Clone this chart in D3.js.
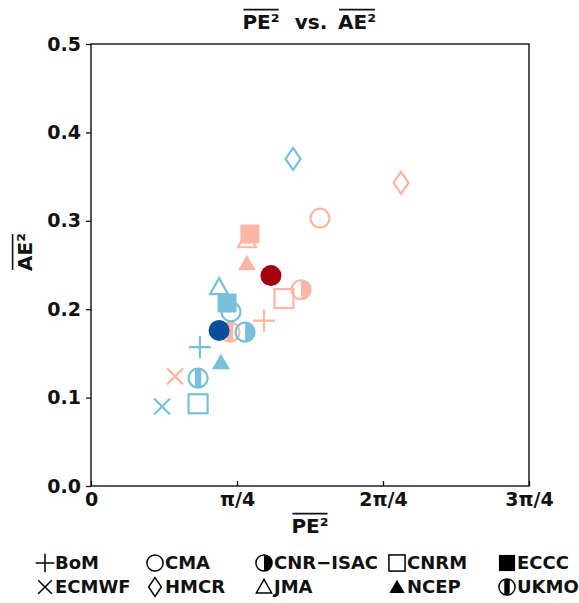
<!DOCTYPE html>
<html>
<head>
<meta charset="utf-8">
<script src="https://cdn.jsdelivr.net/npm/d3@7"></script>
<style>
  html, body { margin: 0; padding: 0; background: #fff; }
  svg text { font-family: "DejaVu Sans", sans-serif; font-weight: 700; fill: #111; }
</style>
</head>
<body>
<svg id="chart" width="579" height="603"></svg>
<script>
// Models and their marker shapes
const models = ["BoM", "CMA", "CNR\u2212ISAC", "CNRM", "ECCC", "ECMWF", "HMCR", "JMA", "NCEP", "UKMO"];
const shapes = ["plus", "circle", "halfRight", "square", "squareFilled", "cross", "diamond", "triangle", "triangleFilled", "band"];

// Series values: mean squared phase error (x) and amplitude error (y)
const bluePE = [0.586, 0.753, 0.829, 0.576, 0.732, 0.382, 1.087, 0.689, 0.699, 0.576];
const blueAE = [0.157, 0.197, 0.174, 0.093, 0.207, 0.090, 0.370, 0.225, 0.140, 0.122];
const redPE  = [0.931, 1.232, 1.130, 1.038, 0.855, 0.452, 1.668, 0.839, 0.839, 0.748];
const redAE  = [0.187, 0.303, 0.222, 0.212, 0.285, 0.124, 0.343, 0.278, 0.252, 0.174];

// Multi-model means
const meanPE = [0.689, 0.968];
const meanAE = [0.176, 0.238];

// Axis ticks
const xTicks = [0, Math.PI / 4, 2 * Math.PI / 4, 3 * Math.PI / 4];
const xTickLabels = ["0", "\u03c0/4", "2\u03c0/4", "3\u03c0/4"];
const yTicks = [0, 0.1, 0.2, 0.3, 0.4, 0.5];

const colBlue = "#78c0da", colRed = "#fbb7a3", colMeanBlue = "#074f9b", colMeanRed = "#a3000f";

const svg = d3.select("#chart");
const x = d3.scaleLinear().domain([0, 3 * Math.PI / 4]).range([91, 529]);
const y = d3.scaleLinear().domain([0, 0.5]).range([486, 44]);

// Axes
const gx = svg.append("g").attr("transform", "translate(0,486)")
  .call(d3.axisBottom(x).tickValues(xTicks).tickFormat((d, i) => xTickLabels[i])
    .tickSize(-5).tickPadding(7));
const gy = svg.append("g").attr("transform", "translate(91,0)")
  .call(d3.axisLeft(y).tickValues(yTicks).tickFormat(d3.format(".1f"))
    .tickSize(5).tickPadding(5));
[gx, gy].forEach(g => {
  g.select(".domain").remove();
  g.selectAll(".tick line").attr("stroke", "#111").attr("stroke-width", 1.3);
  g.selectAll(".tick text").style("font-size", "19px").style("font-family", "'DejaVu Sans', sans-serif").style("font-weight", 700).attr("fill", "#111");
});
svg.append("rect").attr("x", 91).attr("y", 44).attr("width", 438).attr("height", 442)
  .attr("fill", "none").attr("stroke", "#111").attr("stroke-width", 1.4);

// Marker drawing
function marker(g, shape, color, s, sw) {
  const r = 9.5 * s;
  switch (shape) {
    case "plus":
      g.append("path").attr("d", `M${-11*s},0H${11*s}M0,${-11*s}V${11*s}`).attr("stroke", color).attr("stroke-width", sw).attr("fill", "none");
      break;
    case "cross":
      g.append("path").attr("d", `M${-8*s},${-8*s}L${8*s},${8*s}M${-8*s},${8*s}L${8*s},${-8*s}`).attr("stroke", color).attr("stroke-width", sw).attr("fill", "none");
      break;
    case "circle":
      g.append("circle").attr("r", r).attr("fill", "none").attr("stroke", color).attr("stroke-width", sw);
      break;
    case "halfRight":
      g.append("path").attr("d", `M0,${-r}A${r},${r} 0 0 1 0,${r}Z`).attr("fill", color);
      g.append("circle").attr("r", r).attr("fill", "none").attr("stroke", color).attr("stroke-width", sw);
      break;
    case "band": {
      const w = 3.2 * s, h = Math.sqrt(r * r - w * w);
      g.append("path").attr("d", `M${-w},${-h}A${r},${r} 0 0 1 ${w},${-h}L${w},${h}A${r},${r} 0 0 1 ${-w},${h}Z`).attr("fill", color);
      g.append("circle").attr("r", r).attr("fill", "none").attr("stroke", color).attr("stroke-width", sw);
      break;
    }
    case "square":
      g.append("rect").attr("x", -9.5*s).attr("y", -9.5*s).attr("width", 19*s).attr("height", 19*s).attr("fill", "none").attr("stroke", color).attr("stroke-width", sw);
      break;
    case "squareFilled":
      g.append("rect").attr("x", -9.5*s).attr("y", -9.5*s).attr("width", 19*s).attr("height", 19*s).attr("fill", color);
      break;
    case "diamond":
      g.append("path").attr("d", `M0,${-11*s}L${7.5*s},0L0,${11*s}L${-7.5*s},0Z`).attr("fill", "none").attr("stroke", color).attr("stroke-width", sw);
      break;
    case "triangle":
      g.append("path").attr("d", `M0,${-9*s}L${9*s},${7*s}L${-9*s},${7*s}Z`).attr("fill", "none").attr("stroke", color).attr("stroke-width", sw);
      break;
    case "triangleFilled":
      g.append("path").attr("d", `M0,${-8.5*s}L${9*s},${7*s}L${-9*s},${7*s}Z`).attr("fill", color);
      break;
  }
}

const pts = svg.append("g");
models.forEach((m, i) => {
  marker(pts.append("g").attr("transform", `translate(${x(redPE[i])},${y(redAE[i])})`), shapes[i], colRed, 1, 2.2);
});
models.forEach((m, i) => {
  marker(pts.append("g").attr("transform", `translate(${x(bluePE[i])},${y(blueAE[i])})`), shapes[i], colBlue, 1, 2.2);
});
[colMeanBlue, colMeanRed].forEach((c, i) => {
  pts.append("circle").attr("cx", x(meanPE[i])).attr("cy", y(meanAE[i])).attr("r", 10.5).attr("fill", c);
});

// Text pieces, each centred at its own x, with an overline where requested
function overlined(parts, cy, size, rotate, ox) {
  const g = svg.append("g").attr("transform", rotate ? `translate(${ox},${cy}) rotate(-90)` : `translate(0,${cy})`);
  parts.forEach(p => {
    const t = g.append("text").attr("x", p.x).attr("y", 0).attr("dy", "0.36em")
      .attr("text-anchor", "middle").style("font-size", size + "px").text(p.text);
    if (p.bar) {
      const w = t.node().getComputedTextLength();
      g.append("line").attr("x1", p.x - w / 2 + 1).attr("x2", p.x + w / 2 - 1)
        .attr("y1", -size * 0.62).attr("y2", -size * 0.62)
        .attr("stroke", "#111").attr("stroke-width", 1.6);
    }
  });
}

overlined([{ text: "PE\u00b2", bar: true, x: 261 }, { text: "vs.", x: 311 }, { text: "AE\u00b2", bar: true, x: 357 }], 22, 20, false);
overlined([{ text: "PE\u00b2", bar: true, x: 310 }], 526, 20, false);
overlined([{ text: "AE\u00b2", bar: true, x: 0 }], 252, 20, true, 25);

// Legend
const legRows = [563, 587];
const legCols = [45, 155, 264, 397, 507];
models.forEach((m, i) => {
  const row = Math.floor(i / 5), col = i % 5;
  const cx = legCols[col], cy = legRows[row];
  marker(svg.append("g").attr("transform", `translate(${cx},${cy})`), shapes[i], "#000", 0.85, 1.5);
  svg.append("text").attr("x", cx + 10).attr("y", cy).attr("dy", "0.36em")
    .style("font-size", "18px").text(m);
});
</script>
</body>
</html>
